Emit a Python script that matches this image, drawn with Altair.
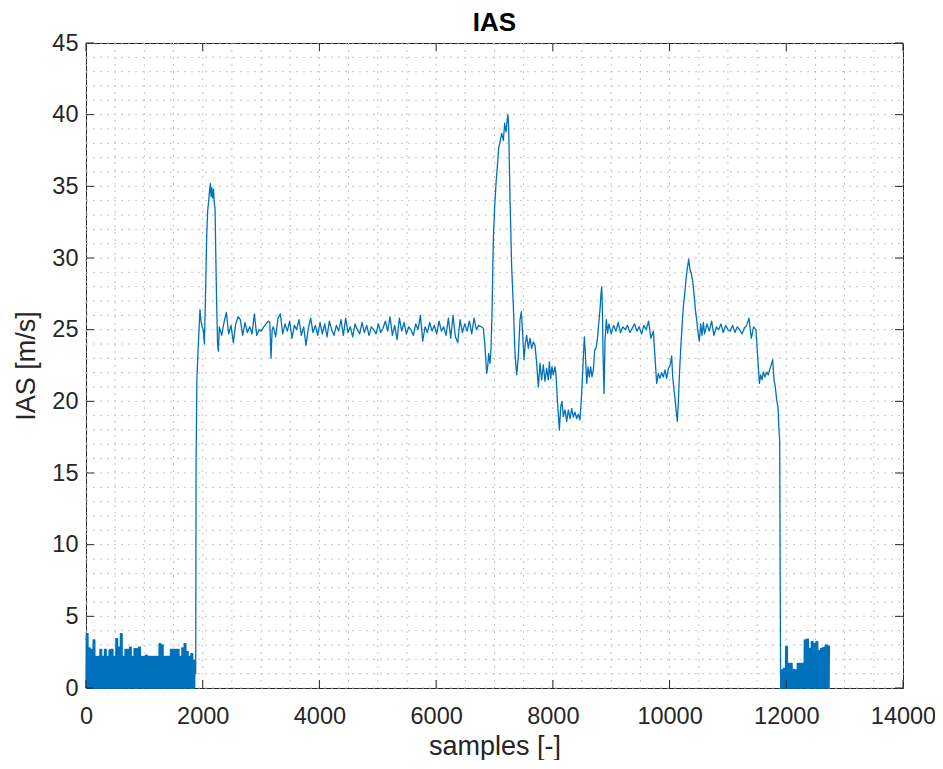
import altair as alt
import pandas as pd

# ---------------- data ----------------
# ground noise before take-off: peak value of each ~39-sample chunk (signal falls to 0 in between)
pre_noise_peaks = [3.8, 2.8, 2.7, 3.35, 2.2, 2.2, 2.7, 2.2, 2.7, 2.2, 2.65, 2.7, 2.2, 3.45, 2.85, 3.8,
                   2.2, 2.7, 2.7, 2.85, 2.2, 2.75, 2.75, 2.85, 2.2, 2.2, 2.3, 2.2, 2.2, 2.2, 2.2, 2.2,
                   3.1, 3.0, 2.2, 2.2, 2.2, 2.7, 2.7, 2.7, 2.7, 2.2, 2.8, 3.1, 2.55, 2.2, 2.4, 1.95]
pre_noise_start, pre_noise_step = 0, 39

# take-off and first speed peak
climb_s = [1880, 1886, 1900, 1925, 1953, 1970, 1990, 2010, 2028, 2045, 2068, 2085, 2100, 2115, 2130,
           2142, 2155, 2170, 2185, 2199, 2211, 2225, 2239, 2255, 2268]
climb_v = [1.0, 15.5, 21.5, 24.0, 26.4, 25.6, 25.2, 25.0, 24.0, 26.8, 31.5, 33.3, 33.9, 34.6, 35.2,
           34.3, 34.9, 34.2, 34.8, 33.8, 33.5, 30.0, 26.8, 24.0, 23.5]

# cruise 1 (every 40 samples from 2285)
cruise1_start = 2285
cruise1_v = [25.2, 24.6, 25.5, 26.2, 24.7, 25.3, 24.1, 25.4, 25.9, 25.7, 24.6, 25.5, 24.8, 25.2,
             24.7, 26.1, 24.6, 25.0, 24.9, 25.2, 25.4, 25.6]

gust_s = [3150, 3170, 3190]
gust_v = [25.5, 23.0, 25.0]

# cruise 2 (every 40 samples from 3210)
cruise2_start = 3210
cruise2_v = [25.2, 24.5, 25.8, 26.1, 24.7, 25.4, 24.9, 25.6, 24.4, 25.3,
             25.0, 25.7, 24.6, 25.2, 23.9, 25.1, 25.8, 24.8, 25.3, 24.6,
             25.5, 24.7, 25.4, 24.5, 25.6, 25.0, 24.6, 25.3, 24.9, 25.7,
             24.6, 25.8, 24.8, 25.2, 24.5, 25.4, 25.0, 24.7, 25.5, 24.8,
             25.3, 24.6, 25.2, 25.0, 24.7, 25.4, 24.8, 25.1, 25.6, 24.9,
             25.9, 24.6, 25.3, 24.3, 25.8, 24.9, 25.5, 24.7, 25.2, 25.0,
             24.6, 25.4, 25.0, 26.0, 24.2, 25.2, 24.8, 25.5, 24.9, 25.3,
             24.7, 25.6, 24.9, 25.2, 24.6, 25.8, 24.4, 26.0, 24.5, 24.1,
             25.7, 24.8, 25.4, 24.9, 25.6, 24.7, 25.8, 25.0, 25.3, 25.2,
             25.1]

# manoeuvres 6800-8950
man1_s = [6837, 6866, 6883, 6900, 6923, 6940, 6957, 6980, 7003, 7026, 7049, 7071, 7094, 7123, 7152,
          7174, 7197, 7220, 7231, 7243, 7266, 7294, 7323, 7351, 7380, 7408, 7437, 7460, 7483, 7506,
          7528, 7551, 7580, 7608, 7637, 7665, 7694, 7723, 7751, 7780, 7808, 7837, 7865, 7894, 7922,
          7940, 7963, 7985, 8008, 8037, 8054, 8077, 8100, 8111, 8134, 8157, 8180, 8208, 8237, 8265,
          8294, 8322, 8351, 8379, 8408, 8437, 8465, 8494, 8523, 8540, 8557, 8580, 8602, 8625, 8648,
          8671, 8694, 8717, 8739, 8762, 8785, 8808, 8825, 8837, 8848, 8860, 8877, 8894, 8917, 8939]
man1_v = [23.8, 21.95, 22.4, 23.35, 22.65, 23.6, 26.1, 31.26, 33.6, 35.2, 36.4, 37.65, 38.1, 38.7, 38.2,
          39.4, 38.8, 39.75, 40.0, 39.05, 34.05, 29.4, 26.6, 23.35, 21.84, 23.1, 25.7, 26.25, 24.75, 22.9,
          24.05, 24.6, 23.7, 24.4, 23.7, 24.15, 23.9, 22.65, 21.0, 22.65, 21.5, 22.55, 21.4, 22.3, 21.5,
          22.75, 21.6, 22.4, 21.85, 22.4, 21.85, 20.1, 18.7, 18.0, 19.6, 20.0, 18.93, 19.4, 18.6, 19.4,
          18.8, 19.5, 18.9, 19.25, 18.8, 19.1, 18.7, 20.55, 23.1, 24.5, 23.35, 21.25, 22.4, 21.7, 22.4,
          21.7, 22.2, 23.6, 23.7, 24.3, 25.4, 26.4, 27.5, 28.0, 26.6, 23.35, 20.55, 24.3, 25.7, 24.75]

# cruise 3 (every 40 samples from 8960)
cruise3_start = 8960
cruise3_v = [25.4, 24.7, 25.3, 24.9, 25.5, 24.8, 25.2, 25.0, 25.3, 24.8, 25.1, 25.4, 24.9, 25.2,
             24.7, 25.3, 25.0, 25.6, 24.4]

# manoeuvres 9700-10600
man2_s = [9722, 9750, 9779, 9808, 9836, 9865, 9893, 9922, 9950, 9979, 10008, 10036, 10053, 10076,
          10099, 10116, 10133, 10150, 10167, 10190, 10213, 10236, 10259, 10282, 10305, 10327, 10350,
          10373, 10396, 10419, 10442, 10464, 10487, 10510, 10533, 10556, 10579]
man2_v = [24.9, 23.1, 21.25, 21.95, 21.6, 22.0, 21.7, 22.2, 21.6, 22.3, 22.5, 23.17, 21.7, 20.8,
          19.98, 19.2, 18.6, 19.9, 21.7, 23.6, 25.2, 26.6, 27.5, 28.5, 29.3, 29.9, 29.2,
          28.9, 28.4, 27.5, 26.4, 25.7, 24.8, 24.2, 25.4, 24.6, 25.5]

# cruise 4 (every 40 samples from 10600)
cruise4_start = 10600
cruise4_v = [24.7, 25.4, 24.9, 25.6, 24.6, 25.2, 25.0, 25.4, 24.8, 25.3, 25.0, 24.9, 25.3, 24.8,
             25.2, 25.0, 24.7, 25.1, 25.3, 25.8, 24.4, 25.2, 25.0]

# approach and landing
desc_s = [11510, 11539, 11561, 11584, 11607, 11635, 11664, 11692, 11721, 11750, 11767, 11790,
          11812, 11835, 11858, 11875, 11887, 11895]
desc_v = [23.1, 21.25, 21.85, 21.5, 22.05, 21.7, 22.05, 21.85, 22.3, 22.65, 22.9, 21.5,
          21.0, 20.1, 19.6, 18.0, 17.3, 8.0]

# ground noise after landing: peak of each 40-sample chunk
post_noise_peaks = [1.26, 1.37, 2.88, 1.72, 1.72, 1.3, 1.26, 1.72, 1.72, 1.72, 3.35, 3.40, 2.77,
                    3.23, 3.12, 3.23, 2.6, 2.77, 2.84, 3.0, 2.93]
post_noise_start, post_noise_step = 11904, 40

x_ticks = list(range(0, 14001, 2000))
y_ticks = list(range(0, 46, 5))
x_minor = list(range(0, 14001, 500))
y_minor = list(range(0, 46, 1))

# ---------------- build table ----------------
for a, b in [(climb_s, climb_v), (gust_s, gust_v), (man1_s, man1_v), (man2_s, man2_v), (desc_s, desc_v)]:
    assert len(a) == len(b)

S, V = [], []

def add_noise(start, step, peaks):
    # the recorded signal flips between 0 and the chunk peak from one sample to the next
    n = 8
    for k, e in enumerate(peaks):
        s = start + k * step
        q = step / float(n)
        for j in range(n):
            S.append(s + j * q)
            V.append(0.0 if j % 2 == 0 else e)

def add_pairs(ss, vv):
    S.extend(ss)
    V.extend(vv)

def add_even(start, vv, step=40):
    S.extend([start + k * step for k in range(len(vv))])
    V.extend(vv)

add_noise(pre_noise_start, pre_noise_step, pre_noise_peaks)
add_pairs(climb_s, climb_v)
add_even(cruise1_start, cruise1_v)
add_pairs(gust_s, gust_v)
add_even(cruise2_start, cruise2_v)
add_pairs(man1_s, man1_v)
add_even(cruise3_start, cruise3_v)
add_pairs(man2_s, man2_v)
add_even(cruise4_start, cruise4_v)
add_pairs(desc_s, desc_v)
add_noise(post_noise_start, post_noise_step, post_noise_peaks)

df = pd.DataFrame({"sample": S, "ias": V, "i": range(len(S))})

# ---------------- chart ----------------
W, H = 817, 645
TXT = "#262626"
GRID = "#c4c4c4"
FONT = "Liberation Sans"

xs = alt.Scale(domain=[0, 14000], nice=False, zero=False)
ys = alt.Scale(domain=[0, 45], nice=False, zero=False)

AX = alt.Axis(values=x_ticks, format="d", grid=False, ticks=False, domain=False,
              labelFontSize=23.5, labelColor=TXT, labelFont=FONT, labelPadding=16,
              labelFlush=False,
              title="samples [-]", titleFontSize=27, titleFont=FONT, titleFontWeight="normal",
              titleColor=TXT, titlePadding=6)
AY = alt.Axis(values=y_ticks, format="d", grid=False, ticks=False, domain=False,
              labelFontSize=23.5, labelColor=TXT, labelFont=FONT, labelPadding=8,
              labelFlush=False,
              title="IAS [m/s]", titleFontSize=27, titleFont=FONT, titleFontWeight="normal",
              titleColor=TXT, titlePadding=11)

def X(f):
    return alt.X(f, scale=xs, axis=AX)

def Y(f):
    return alt.Y(f, scale=ys, axis=AY)

line = alt.Chart(df).mark_line(color="#0072BD", strokeWidth=1.3, strokeJoin="round").encode(
    x=X("sample:Q"), y=Y("ias:Q"), order="i:Q")

gx = alt.Chart(pd.DataFrame({"sample": x_minor})).mark_rule(
    color=GRID, strokeWidth=1, strokeDash=[2, 5]
).encode(x=X("sample:Q"), y=alt.value(0), y2=alt.value(H))

gy = alt.Chart(pd.DataFrame({"ias": y_minor})).mark_rule(
    color=GRID, strokeWidth=1, strokeDash=[2, 5]
).encode(y=Y("ias:Q"), x=alt.value(0), x2=alt.value(W))

TL = 8
tx_df = pd.DataFrame({"sample": x_ticks})
ty_df = pd.DataFrame({"ias": y_ticks})
tick_bottom = alt.Chart(tx_df).mark_rule(color=TXT, strokeWidth=1).encode(
    x=X("sample:Q"), y=alt.value(H - TL), y2=alt.value(H))
tick_top = alt.Chart(tx_df).mark_rule(color=TXT, strokeWidth=1).encode(
    x=X("sample:Q"), y=alt.value(0), y2=alt.value(TL))
tick_left = alt.Chart(ty_df).mark_rule(color=TXT, strokeWidth=1).encode(
    y=Y("ias:Q"), x=alt.value(0), x2=alt.value(TL))
tick_right = alt.Chart(ty_df).mark_rule(color=TXT, strokeWidth=1).encode(
    y=Y("ias:Q"), x=alt.value(W - TL), x2=alt.value(W))

chart = alt.layer(gx, gy, line, tick_bottom, tick_top, tick_left, tick_right).properties(
    width=W, height=H,
    title=alt.TitleParams("IAS", fontSize=26, fontWeight="bold", font=FONT, color="#000000",
                          anchor="middle", offset=-5),
    autosize=alt.AutoSizeParams(type="none"),
    padding={"left": 78, "top": 35, "right": 32, "bottom": 72},
).configure_view(stroke=TXT, strokeWidth=1)

chart.save("out.html", embed_options={"renderer": "svg", "actions": False})
